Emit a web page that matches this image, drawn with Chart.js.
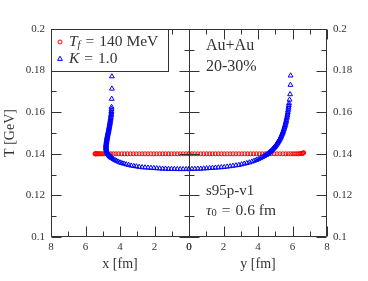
<!DOCTYPE html>
<html lang="en">
<head>
  <meta charset="UTF-8">
  <title>Freeze-out temperature</title>
  <script src="https://cdn.jsdelivr.net/npm/chart.js"></script>
  <style>
    html, body { margin: 0; padding: 0; background: #fff; }
  </style>
</head>
<body>
  <canvas id="tChart" width="368" height="281"></canvas>

  <script>
    // tick values (major get labels, minor are just marks)
    const xTickVals = [0, 2, 4, 6, 8];
    const xMinorVals = [1, 3, 5, 7];
    const tTickVals = [0.1, 0.12, 0.14, 0.16, 0.18, 0.2];
    const tMinorVals = [0.11, 0.13, 0.15, 0.17, 0.19];

    // T_f = 140 MeV, along x
    const redX = [0.00, 0.17, 0.34, 0.51, 0.68, 0.85, 1.02, 1.19, 1.36, 1.53, 1.70, 1.87, 2.04, 2.21,
      2.38, 2.55, 2.72, 2.89, 3.06, 3.23, 3.40, 3.57, 3.74, 3.91, 4.08, 4.24, 4.39, 4.53, 4.66, 4.78,
      4.89, 4.98, 5.06, 5.13, 5.19, 5.25, 5.30, 5.34, 5.38, 5.41, 5.43, 5.45];
    const redXT = [0.14, 0.14, 0.14, 0.14, 0.14, 0.14, 0.14, 0.14, 0.14, 0.14, 0.14, 0.14, 0.14, 0.14,
      0.14, 0.14, 0.14, 0.14, 0.14, 0.14, 0.14, 0.14, 0.14, 0.14, 0.14, 0.14, 0.14, 0.14, 0.14, 0.14,
      0.14, 0.14, 0.14, 0.14, 0.14, 0.14, 0.14, 0.14, 0.14, 0.14, 0.14, 0.14];

    // T_f = 140 MeV, along y
    const redY = [0.00, 0.17, 0.34, 0.51, 0.68, 0.85, 1.02, 1.19, 1.36, 1.53, 1.70, 1.87, 2.04, 2.21,
      2.38, 2.55, 2.72, 2.89, 3.06, 3.23, 3.40, 3.57, 3.74, 3.91, 4.08, 4.25, 4.42, 4.59, 4.76, 4.93,
      5.10, 5.27, 5.44, 5.61, 5.76, 5.90, 6.03, 6.15, 6.26, 6.35, 6.43, 6.50, 6.56, 6.60, 6.63, 6.65];
    const redYT = [0.14, 0.14, 0.14, 0.14, 0.14, 0.14, 0.14, 0.14, 0.14, 0.14, 0.14, 0.14, 0.14, 0.14,
      0.14, 0.14, 0.14, 0.14, 0.14, 0.14, 0.14, 0.14, 0.14, 0.14, 0.14, 0.14, 0.14, 0.14, 0.14, 0.14,
      0.14, 0.14, 0.14, 0.14, 0.14, 0.14, 0.14, 0.14, 0.14, 0.14, 0.1401, 0.1401, 0.1402, 0.1403,
      0.1404, 0.1405];

    // K = 1.0, along x
    const blueX = [0.00, 0.17, 0.34, 0.51, 0.68, 0.85, 1.02, 1.19, 1.36, 1.53, 1.70, 1.87, 2.04, 2.21,
      2.38, 2.55, 2.72, 2.89, 3.05, 3.20, 3.35, 3.50, 3.64, 3.77, 3.89, 4.00, 4.10, 4.20, 4.29, 4.38,
      4.46, 4.50, 4.53, 4.57, 4.60, 4.63, 4.66, 4.69, 4.71, 4.73, 4.75, 4.77, 4.78, 4.79, 4.80, 4.81,
      4.81, 4.81, 4.81, 4.81, 4.81, 4.80, 4.80, 4.79, 4.79, 4.78, 4.78, 4.77, 4.76, 4.75, 4.75, 4.74,
      4.73, 4.72, 4.71, 4.70, 4.69, 4.68, 4.67, 4.66, 4.65, 4.64, 4.63, 4.62, 4.61, 4.60, 4.59, 4.58,
      4.57, 4.56, 4.55, 4.54, 4.53, 4.52, 4.51, 4.50, 4.50, 4.49, 4.49, 4.48, 4.47, 4.47];
    const blueXT = [0.1326, 0.1326, 0.1326, 0.1326, 0.1326, 0.1327, 0.1327, 0.1327, 0.1328, 0.1328,
      0.1329, 0.1330, 0.1331, 0.1332, 0.1333, 0.1334, 0.1335, 0.1337, 0.1339, 0.1341, 0.1343, 0.1346,
      0.1349, 0.1352, 0.1355, 0.1358, 0.1362, 0.1366, 0.1370, 0.1374,
      0.1379, 0.1381, 0.1384, 0.1386, 0.1389, 0.1392, 0.1395, 0.1398, 0.1401, 0.1404, 0.1407, 0.1411,
      0.1414, 0.1418, 0.1421, 0.1425, 0.1428, 0.1432, 0.1435, 0.1439, 0.1442, 0.1446, 0.1449, 0.1453,
      0.1456, 0.1460, 0.1463, 0.1467, 0.1470, 0.1474, 0.1478, 0.1482, 0.1486, 0.1490, 0.1494, 0.1498,
      0.1502, 0.1506, 0.1510, 0.1514, 0.1518, 0.1523, 0.1527, 0.1532, 0.1536, 0.1541, 0.1545, 0.1550,
      0.1555, 0.1561, 0.1566, 0.1572, 0.1578, 0.1585, 0.1591, 0.1598, 0.1605, 0.1615, 0.1625, 0.1664,
      0.1713, 0.1772];

    // K = 1.0, along y
    const blueY = [0.00, 0.17, 0.34, 0.51, 0.68, 0.85, 1.02, 1.19, 1.36, 1.53, 1.70, 1.87, 2.04, 2.21,
      2.38, 2.55, 2.72, 2.89, 3.05, 3.20, 3.35, 3.50, 3.64, 3.77, 3.90, 4.02, 4.14, 4.25, 4.36,
      4.46, 4.51, 4.56, 4.61, 4.65, 4.70, 4.74, 4.78, 4.82, 4.86, 4.90, 4.94, 4.97, 5.01, 5.04, 5.08,
      5.11, 5.14, 5.17, 5.20, 5.23, 5.26, 5.29, 5.32, 5.34, 5.37, 5.39, 5.42, 5.44, 5.46, 5.48, 5.51,
      5.53, 5.55, 5.57, 5.59, 5.61, 5.63, 5.64, 5.66, 5.68, 5.70, 5.71, 5.73, 5.74, 5.76, 5.77, 5.79,
      5.80, 5.83, 5.86, 5.88, 5.89];
    const blueYT = [0.1327, 0.1327, 0.1327, 0.1328, 0.1328, 0.1329, 0.1330, 0.1331, 0.1332, 0.1333,
      0.1334, 0.1335, 0.1336, 0.1338, 0.1340, 0.1342, 0.1344, 0.1346, 0.1349, 0.1352, 0.1355, 0.1358,
      0.1362, 0.1366, 0.1370, 0.1374, 0.1379, 0.1384, 0.1389,
      0.1394, 0.1397, 0.1400, 0.1403, 0.1406, 0.1409, 0.1412, 0.1415, 0.1419, 0.1422, 0.1426, 0.1430,
      0.1433, 0.1437, 0.1441, 0.1445, 0.1449, 0.1453, 0.1457, 0.1461, 0.1466, 0.1470, 0.1475, 0.1479,
      0.1484, 0.1489, 0.1494, 0.1499, 0.1504, 0.1509, 0.1515, 0.1520, 0.1526, 0.1532, 0.1538, 0.1544,
      0.1550, 0.1556, 0.1563, 0.1570, 0.1577, 0.1584, 0.1592, 0.1600, 0.1608, 0.1616, 0.1625, 0.1634,
      0.1643, 0.1660, 0.1686, 0.1731, 0.1776];

    const SERIF = "'Liberation Serif', 'DejaVu Serif', serif";
    const INK = '#333';

    function pts(xs, ys) {
      return xs.map((x, i) => ({ x: x, y: ys[i] }));
    }

    // draw a row of text pieces (for italics / subscripts), left aligned, middle baseline
    function drawRuns(ctx, x, y, runs) {
      ctx.textAlign = 'left';
      ctx.textBaseline = 'middle';
      for (const r of runs) {
        ctx.font = r.font;
        ctx.fillText(r.t, x, y + (r.dy || 0));
        x += ctx.measureText(r.t).width + (r.gap || 0);
      }
    }

    function marker(ctx, style, x, y, color) {
      ctx.strokeStyle = color;
      ctx.lineWidth = 1;
      ctx.beginPath();
      if (style === 'circle') {
        ctx.arc(x, y, 2, 0, Math.PI * 2);
      } else {
        const r = 2.8;
        ctx.moveTo(x, y - r);
        ctx.lineTo(x + r * 0.866, y + r * 0.5);
        ctx.lineTo(x - r * 0.866, y + r * 0.5);
        ctx.closePath();
      }
      ctx.stroke();
    }

    // frame, inward ticks, legend box and notes
    const decor = {
      id: 'decor',
      afterDatasetsDraw(chart) {
        const { ctx, chartArea: ca, scales } = chart;
        const xl = scales.x1, xr = scales.x2, ty = scales.y;
        const mid = Math.round(xl.right) + 0.5;
        const L = Math.round(ca.left) + 0.5, R = Math.round(ca.right) - 0.5;
        const T = Math.round(ca.top) + 0.5, B = Math.round(ca.bottom) - 0.5;
        ctx.save();
        ctx.strokeStyle = INK;
        ctx.lineWidth = 1;
        ctx.beginPath();
        ctx.rect(L, T, R - L, B - T);
        ctx.moveTo(mid, T); ctx.lineTo(mid, B);
        const yt = tTickVals.map(v => [v, 10]).concat(tMinorVals.map(v => [v, 5]));
        for (const [v, len] of yt) {
          const py = Math.round(ty.getPixelForValue(v)) + 0.5;
          ctx.moveTo(L, py); ctx.lineTo(L + len, py);
          ctx.moveTo(mid - len, py); ctx.lineTo(mid + len, py);
          ctx.moveTo(R - len, py); ctx.lineTo(R, py);
        }
        const xt = xTickVals.map(v => [v, 10]).concat(xMinorVals.map(v => [v, 5]));
        for (const sc of [xl, xr]) {
          for (const [v, len] of xt) {
            const px = Math.round(sc.getPixelForValue(v)) + 0.5;
            ctx.moveTo(px, B); ctx.lineTo(px, B - len);
            ctx.moveTo(px, T); ctx.lineTo(px, T + len);
          }
        }
        ctx.stroke();

        // legend box in the left panel
        const lw = 117, lh = 42;
        ctx.fillStyle = '#fff';
        ctx.fillRect(L, T, lw, lh);
        ctx.strokeRect(L, T, lw, lh);
        const ds = chart.data.datasets;
        marker(ctx, 'circle', L + 8.5, T + 12.5, ds[2].borderColor);
        marker(ctx, 'triangle', L + 8.5, T + 29.5, ds[0].borderColor);
        ctx.fillStyle = INK;
        drawRuns(ctx, L + 17.5, T + 12.5, [
          { t: 'T', font: 'italic 15.5px ' + SERIF },
          { t: 'f', font: 'italic 10.5px ' + SERIF, dy: 3, gap: 5 },
          { t: '=', font: '15.5px ' + SERIF, gap: 5 },
          { t: '140 MeV', font: '15.5px ' + SERIF }
        ]);
        drawRuns(ctx, L + 17.5, T + 29.5, [
          { t: 'K', font: 'italic 15.5px ' + SERIF, gap: 5 },
          { t: '=', font: '15.5px ' + SERIF, gap: 5 },
          { t: '1.0', font: '15.5px ' + SERIF }
        ]);

        // notes in the right panel
        const nx = xr.left + 17;
        drawRuns(ctx, nx, T + 16.5, [{ t: 'Au+Au', font: '16px ' + SERIF }]);
        drawRuns(ctx, nx, T + 37, [{ t: '20-30%', font: '16px ' + SERIF }]);
        drawRuns(ctx, nx, B - 45, [{ t: 's95p-v1', font: '15px ' + SERIF }]);
        drawRuns(ctx, nx, B - 26, [
          { t: 'τ', font: 'italic 15.5px ' + SERIF },
          { t: '0', font: '10.5px ' + SERIF, dy: 3, gap: 5 },
          { t: '=', font: '15.5px ' + SERIF, gap: 5 },
          { t: '0.6 fm', font: '15.5px ' + SERIF }
        ]);
        ctx.restore();
      }
    };

    function fixTicks(vals) {
      return function (scale) {
        scale.ticks = vals.map(v => ({ value: v }));
      };
    }

    const tickFont = { family: SERIF, size: 11 };
    const titleFont = { family: SERIF, size: 14 };

    const xAxis = (reverse, title) => ({
      type: 'linear',
      position: 'bottom',
      stack: 'panels',
      reverse: reverse,
      min: 0,
      max: 8,
      grid: { display: false, drawTicks: false },
      border: { display: false },
      afterBuildTicks: fixTicks(xTickVals),
      afterFit: s => { s.height = 44; },
      ticks: { font: tickFont, color: INK, padding: 4, autoSkip: false, maxRotation: 0,
        callback: v => String(v) },
      title: { display: true, text: title, font: titleFont, color: INK, padding: { top: 0, bottom: 8 } }
    });

    const tAxis = (pos) => ({
      type: 'linear',
      position: pos,
      min: 0.1,
      max: 0.2,
      grid: { display: false, drawTicks: false },
      border: { display: false },
      afterBuildTicks: fixTicks(tTickVals),
      afterFit: s => { s.width = pos === 'left' ? 51 : 41; },
      ticks: { font: tickFont, color: INK, padding: 6, callback: v => String(+v.toFixed(2)) },
      title: { display: pos === 'left', text: 'T [GeV]', font: titleFont, color: INK, padding: { top: 2, bottom: 0 } }
    });

    const common = { showLine: false, borderWidth: 1, backgroundColor: 'rgba(0,0,0,0)', clip: false };

    new Chart(document.getElementById('tChart'), {
      type: 'scatter',
      data: {
        datasets: [
          { ...common, label: 'K = 1.0', data: pts(blueX, blueXT), xAxisID: 'x1', yAxisID: 'y',
            pointStyle: 'triangle', pointRadius: 2.8, borderColor: '#0000ff', order: 1 },
          { ...common, label: 'K = 1.0', data: pts(blueY, blueYT), xAxisID: 'x2', yAxisID: 'y',
            pointStyle: 'triangle', pointRadius: 2.8, borderColor: '#0000ff', order: 1 },
          { ...common, label: 'T_f = 140 MeV', data: pts(redX, redXT), xAxisID: 'x1', yAxisID: 'y',
            pointStyle: 'circle', pointRadius: 2, borderColor: '#ff0000', order: 2 },
          { ...common, label: 'T_f = 140 MeV', data: pts(redY, redYT), xAxisID: 'x2', yAxisID: 'y',
            pointStyle: 'circle', pointRadius: 2, borderColor: '#ff0000', order: 2 }
        ]
      },
      options: {
        responsive: false,
        animation: false,
        layout: { padding: { top: 29, left: 0, right: 0, bottom: 0 } },
        plugins: { legend: { display: false }, tooltip: { enabled: false } },
        scales: {
          x1: xAxis(true, 'x [fm]'),
          x2: xAxis(false, 'y [fm]'),
          y: tAxis('left'),
          y2: tAxis('right')
        }
      },
      plugins: [decor]
    });
  </script>
</body>
</html>
